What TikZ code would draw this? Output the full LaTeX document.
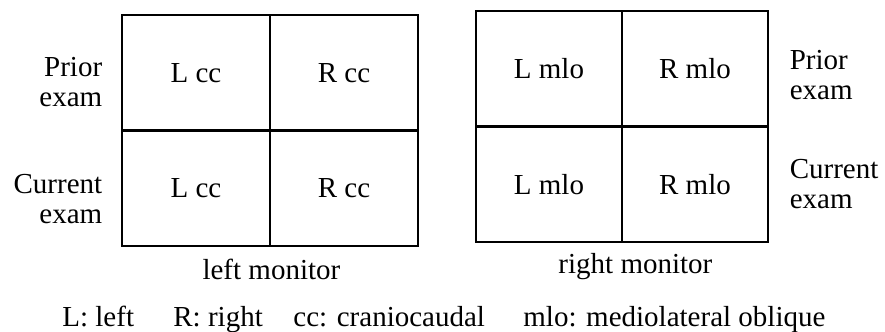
\documentclass[tikz,border=0pt]{standalone}
\usepackage{fontspec}
\setmainfont{Liberation Serif}
\usetikzlibrary{positioning}
\tikzset{
    view-cell/.style = {draw=black, line width=1.4pt, rectangle, minimum width=74pt, minimum height=57.75pt, inner sep=0pt},
    side-label/.style = {inner sep=0pt, font=\fontsize{14.5}{15}\selectfont},
    monitor-label/.style = {inner sep=0pt, font=\fontsize{14.5}{15}\selectfont},
    legend-label/.style = {inner sep=0pt, anchor=base west, font=\fontsize{14.5}{15}\selectfont},
}
\begin{document}
\begin{tikzpicture}[x=1pt, y=1pt, font=\fontsize{14.5}{15}\selectfont]
\useasboundingbox (0,0) rectangle (442.5,166);
% left monitor
\node [view-cell] (lccprior) at (98,129.6) {L cc};
\node [view-cell] (rccprior) at (172,129.6) {R cc};
\node [view-cell] (lcccur) at (98,71.9) {L cc};
\node [view-cell] (rcccur) at (172,71.9) {R cc};
% right monitor
\node [view-cell, minimum width=73pt] (lmloprior) at (274.5,131.6) {L mlo};
\node [view-cell, minimum width=73pt] (rmloprior) at (347.5,131.6) {R mlo};
\node [view-cell, minimum width=73pt] (lmlocur) at (274.5,73.9) {L mlo};
\node [view-cell, minimum width=73pt] (rmlocur) at (347.5,73.9) {R mlo};
% row labels
\node [side-label, align=right, left=9pt of lccprior.west, yshift=-4.5pt] (priorl) {Prior\\exam};
\node [side-label, align=right, left=9pt of lcccur.west, yshift=-5.5pt] (currentl) {Current\\exam};
\node [side-label, align=left, right=10pt of rmloprior.east, yshift=-3pt] (priorr) {Prior\\exam};
\node [side-label, align=left, right=10pt of rmlocur.east] (currentr) {Current\\exam};
% monitor names
\node [monitor-label, below=5.5pt of lcccur.south east] (leftmon) {left monitor};
\node [monitor-label, below=5pt of lmlocur.south east, xshift=6pt] (rightmon) {right monitor};
% legend
\node [legend-label] (legl) at (31,2.8) {L: left};
\node [legend-label] (legr) at (86.5,2.8) {R: right};
\node [legend-label] (legcc) at (146.5,2.8) {cc: craniocaudal};
\node [legend-label] (legmlo) at (261.5,2.8) {mlo: mediolateral oblique};
\end{tikzpicture}
\end{document}
